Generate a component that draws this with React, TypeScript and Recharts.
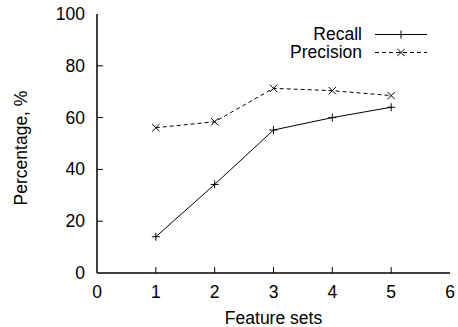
import { LineChart, Line, XAxis, YAxis, Legend, Label } from 'recharts';

const featureSets = [1, 2, 3, 4, 5];
const recall = [14.0, 34.2, 55.2, 60.0, 64.0];
const precision = [56.1, 58.4, 71.3, 70.4, 68.5];
const xTicks = [0, 1, 2, 3, 4, 5, 6];
const yTicks = [0, 20, 40, 60, 80, 100];

const data = featureSets.map((x, i) => ({ x, recall: recall[i], precision: precision[i] }));

const FONT = '"Liberation Sans", Arial, Helvetica, sans-serif';
const FS = 17.5;
const TICK = 6;

const PlusDot = ({ cx, cy }: any) => (
  <path d={`M${cx - 4},${cy}H${cx + 4}M${cx},${cy - 4}V${cy + 4}`} stroke="#000" strokeWidth={1} fill="none" />
);

const CrossDot = ({ cx, cy }: any) => (
  <path
    d={`M${cx - 3.7},${cy - 3.7}L${cx + 3.7},${cy + 3.7}M${cx - 3.7},${cy + 3.7}L${cx + 3.7},${cy - 3.7}`}
    stroke="#000"
    strokeWidth={1}
    fill="none"
  />
);

const BottomTick = ({ x, y, payload }: any) => (
  <g>
    {payload.value > 0 && payload.value < 6 && <line x1={x} x2={x} y1={y} y2={y - TICK} stroke="#000" />}
    <text x={x} y={y + 25} textAnchor="middle" fontSize={FS} fontFamily={FONT} fill="#000">
      {payload.value}
    </text>
  </g>
);

const TopTick = ({ x, y, payload }: any) =>
  payload.value > 0 && payload.value < 6 ? <line x1={x} x2={x} y1={y} y2={y + TICK} stroke="#000" /> : <g />;

const LeftTick = ({ x, y, payload }: any) => (
  <g>
    {payload.value > 0 && payload.value < 100 && <line x1={x} x2={x + TICK} y1={y} y2={y} stroke="#000" />}
    <text x={x - 12} y={y + 6} textAnchor="end" fontSize={FS} fontFamily={FONT} fill="#000">
      {payload.value}
    </text>
  </g>
);

const RightTick = ({ x, y, payload }: any) =>
  payload.value > 0 && payload.value < 100 ? <line x1={x} x2={x - TICK} y1={y} y2={y} stroke="#000" /> : <g />;

const XTitle = ({ viewBox }: any) => (
  <text x={viewBox.x + viewBox.width / 2} y={324} textAnchor="middle" fontSize={FS} fontFamily={FONT} fill="#000">
    Feature sets
  </text>
);

const YTitle = ({ viewBox }: any) => {
  const cy = viewBox.y + viewBox.height / 2 + 4.5;
  return (
    <text x={27} y={cy} transform={`rotate(-90 27 ${cy})`} textAnchor="middle" fontSize={FS} fontFamily={FONT} fill="#000">
      Percentage, %
    </text>
  );
};

const legendRows = [
  { name: 'Recall', dash: undefined, Marker: PlusDot },
  { name: 'Precision', dash: '4 3', Marker: CrossDot },
];

const LegendBox = () => (
  <div style={{ fontFamily: FONT, fontSize: FS, lineHeight: '17.5px', color: '#000' }}>
    {legendRows.map(({ name, dash, Marker }) => (
      <div key={name} style={{ display: 'flex', justifyContent: 'flex-end', alignItems: 'flex-start', height: 17.5 }}>
        <span>{name}</span>
        <svg width={52} height={17.5} style={{ marginLeft: 13, display: 'block' }}>
          <line x1={0} x2={52} y1={8.5} y2={8.5} stroke="#000" strokeDasharray={dash} />
          <Marker cx={26} cy={8.5} />
        </svg>
      </div>
    ))}
  </div>
);

export default function App() {
  return (
    <div style={{ position: 'absolute', left: 0, top: 0, background: '#fff' }}>
      <LineChart width={458} height={327} data={data} margin={{ top: 14, right: 8, left: 0, bottom: 0 }}>
        <XAxis
          dataKey="x"
          type="number"
          domain={[0, 6]}
          ticks={xTicks}
          height={54}
          tickLine={false}
          tickSize={0}
          tickMargin={0}
          tick={<BottomTick />}
          axisLine={{ stroke: '#000', strokeWidth: 1.5 }}
          interval={0}
        >
          <Label content={<XTitle />} />
        </XAxis>
        <XAxis
          xAxisId="top"
          orientation="top"
          dataKey="x"
          type="number"
          domain={[0, 6]}
          ticks={xTicks}
          height={0}
          tickLine={false}
          tickSize={0}
          tickMargin={0}
          tick={<TopTick />}
          axisLine={{ stroke: '#000', strokeWidth: 1.5 }}
          interval={0}
        />
        <YAxis
          type="number"
          domain={[0, 100]}
          ticks={yTicks}
          width={97}
          tickLine={false}
          tickSize={0}
          tickMargin={0}
          tick={<LeftTick />}
          axisLine={{ stroke: '#000', strokeWidth: 1.5 }}
          interval={0}
        >
          <Label content={<YTitle />} />
        </YAxis>
        <YAxis
          yAxisId="right"
          orientation="right"
          type="number"
          domain={[0, 100]}
          ticks={yTicks}
          width={0}
          tickLine={false}
          tickSize={0}
          tickMargin={0}
          tick={<RightTick />}
          axisLine={{ stroke: '#000', strokeWidth: 1.5 }}
          interval={0}
        />
        <Legend
          layout="vertical"
          align="center"
          verticalAlign="middle"
          wrapperStyle={{ top: 26, left: 200, width: 227 }}
          content={<LegendBox />}
        />
        <Line
          dataKey="recall"
          stroke="#000"
          strokeWidth={1}
          dot={<PlusDot />}
          activeDot={false}
          isAnimationActive={false}
        />
        <Line
          dataKey="precision"
          stroke="#000"
          strokeWidth={1}
          strokeDasharray="4 3"
          dot={<CrossDot />}
          activeDot={false}
          isAnimationActive={false}
        />
      </LineChart>
    </div>
  );
}
